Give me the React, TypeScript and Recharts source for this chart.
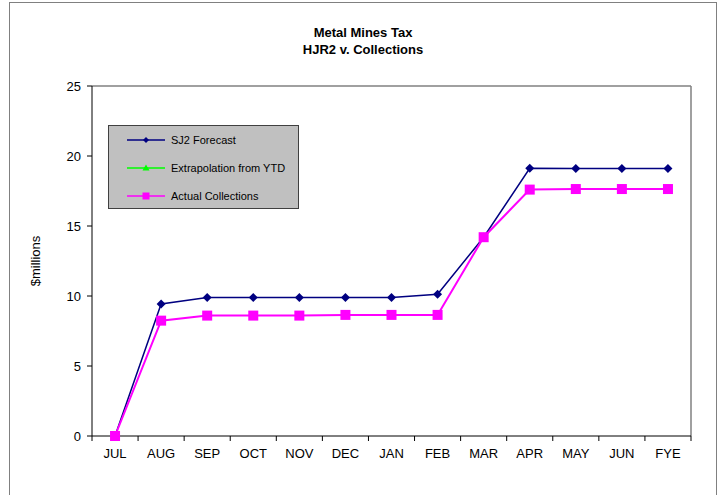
import React from "react";
import {
  LineChart,
  Line,
  XAxis,
  YAxis,
  ReferenceLine,
} from "recharts";

const months = ["JUL", "AUG", "SEP", "OCT", "NOV", "DEC", "JAN", "FEB", "MAR", "APR", "MAY", "JUN", "FYE"];
const sj2Forecast = [0, 9.43, 9.9, 9.9, 9.9, 9.9, 9.9, 10.12, 14.2, 19.12, 19.1, 19.1, 19.1];
const extrapolation: (number | null)[] = [null, null, null, null, null, null, null, null, null, null, null, null, null];
const actual = [0, 8.24, 8.6, 8.6, 8.6, 8.65, 8.65, 8.65, 14.2, 17.6, 17.64, 17.64, 17.64];
const yTicks = [0, 5, 10, 15, 20, 25];
const boundaryTicks = [0, 1, 2, 3, 4, 5, 6, 7, 8, 9, 10, 11, 12, 13];

const data = months.map((m, i) => ({
  month: m,
  pos: i + 0.5,
  sj2: sj2Forecast[i],
  extra: extrapolation[i],
  actual: actual[i],
}));

const FONT = "Arial, 'Liberation Sans', sans-serif";

const Diamond = (props: any) => {
  const { cx, cy, index } = props;
  if (cx == null || cy == null) return <g key={index} />;
  const r = 4.5;
  return (
    <path
      key={index}
      d={`M${cx},${cy - r}L${cx + r},${cy}L${cx},${cy + r}L${cx - r},${cy}Z`}
      fill="#000080"
    />
  );
};

const Square = (props: any) => {
  const { cx, cy, index } = props;
  if (cx == null || cy == null) return <g key={index} />;
  const s = 10;
  return <rect key={index} x={cx - s / 2} y={cy - s / 2} width={s} height={s} fill="#ff00ff" />;
};

const legendItems = [
  { label: "SJ2 Forecast", color: "#000080", mark: "diamond" },
  { label: "Extrapolation from YTD", color: "#00ff00", mark: "triangle" },
  { label: "Actual Collections", color: "#ff00ff", mark: "square" },
];

const LegendBox = () => (
  <div
    style={{
      position: "absolute",
      left: 108,
      top: 125,
      width: 189,
      height: 82,
      background: "#c0c0c0",
      border: "1px solid #404040",
      fontFamily: FONT,
      fontSize: 11,
      color: "#000",
    }}
  >
    {legendItems.map((e, i) => (
      <div
        key={e.label}
        style={{ position: "absolute", left: 18, top: 7 + i * 28, height: 14, display: "flex", alignItems: "center" }}
      >
        <svg width={40} height={14} style={{ display: "block" }}>
          <line x1={0} y1={7} x2={38} y2={7} stroke={e.color} strokeWidth={1.5} />
          {e.mark === "diamond" && <path d="M19,4L22,7L19,10L16,7Z" fill={e.color} />}
          {e.mark === "triangle" && <path d="M19,3.5L22.5,9.5L15.5,9.5Z" fill={e.color} />}
          {e.mark === "square" && <rect x={15.5} y={3.5} width={7} height={7} fill={e.color} />}
        </svg>
        <span style={{ marginLeft: 4 }}>{e.label}</span>
      </div>
    ))}
  </div>
);

export default function App() {
  return (
    <div style={{ position: "absolute", left: 0, top: 0, width: 721, height: 495, overflow: "hidden", background: "#fff" }}>
      <div
        style={{
          position: "absolute",
          left: 9,
          top: 2,
          width: 706,
          height: 520,
          border: "1.5px solid #808080",
        }}
      />
      <div
        style={{
          position: "absolute",
          left: 9,
          width: 708,
          top: 24,
          textAlign: "center",
          fontFamily: FONT,
          fontWeight: "bold",
          fontSize: 13,
          lineHeight: "17px",
        }}
      >
        Metal Mines Tax
        <br />
        HJR2 v. Collections
      </div>
      <div
        style={{
          position: "absolute",
          left: 35,
          top: 261,
          transform: "translate(-50%, -50%) rotate(-90deg)",
          fontFamily: FONT,
          fontSize: 13,
          whiteSpace: "nowrap",
        }}
      >
        $millions
      </div>
      <div style={{ position: "absolute", left: 0, top: 0 }}>
        <LineChart
          width={721}
          height={495}
          data={data}
          margin={{ top: 86, right: 30, bottom: 0, left: 32 }}
        >
          <XAxis
            xAxisId="a"
            dataKey="pos"
            type="number"
            domain={[0, 13]}
            allowDataOverflow
            ticks={boundaryTicks}
            interval={0}
            tick={() => <g />}
            tickSize={5}
            height={5}
            axisLine={{ stroke: "#000", strokeWidth: 1 }}
            tickLine={{ stroke: "#000" }}
          />
          <XAxis
            xAxisId="m"
            dataKey="month"
            scale="band"
            axisLine={false}
            tickLine={false}
            tickSize={0}
            tickMargin={8}
            interval={0}
            height={54}
            tick={{ fill: "#000", fontSize: 13, fontFamily: FONT }}
          />
          <YAxis
            domain={[0, 25]}
            ticks={yTicks}
            width={60}
            tickSize={5}
            tickMargin={6}
            axisLine={{ stroke: "#000" }}
            tickLine={{ stroke: "#000" }}
            tick={{ fill: "#000", fontSize: 13, fontFamily: FONT }}
          />
          <ReferenceLine y={25} xAxisId="m" stroke="#808080" strokeWidth={1.5} />
          <ReferenceLine x={13} xAxisId="a" stroke="#808080" strokeWidth={1.5} />
          <Line
            dataKey="sj2"
            xAxisId="m"
            stroke="#000080"
            strokeWidth={1.5}
            dot={Diamond}
            activeDot={false}
            isAnimationActive={false}
          />
          <Line
            dataKey="extra"
            xAxisId="a"
            stroke="#00ff00"
            strokeWidth={1.5}
            dot={false}
            activeDot={false}
            isAnimationActive={false}
          />
          <Line
            dataKey="actual"
            xAxisId="m"
            stroke="#ff00ff"
            strokeWidth={2}
            dot={Square}
            activeDot={false}
            isAnimationActive={false}
          />
        </LineChart>
      </div>
      <LegendBox />
    </div>
  );
}
